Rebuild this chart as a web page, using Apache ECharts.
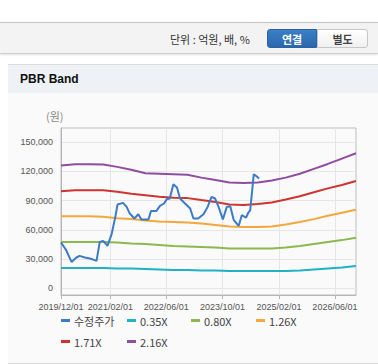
<!DOCTYPE html>
<html>
<head>
<meta charset="utf-8">
<script src="https://cdn.jsdelivr.net/npm/echarts@6/dist/echarts.min.js"></script>
<style>
  html, body { margin: 0; padding: 0; background: #ffffff; width: 378px; height: 364px; overflow: hidden; font-family: "Noto Sans CJK KR", "Liberation Sans", sans-serif; }
  #topbar { position: absolute; left: 0; top: 22px; width: 378px; height: 30px; background: #f3f3f3; border-top: 1px solid #c4c4c4; border-bottom: 1px solid #d0d0d0; box-shadow: 0 1px 2px rgba(0,0,0,0.12); }
  #unit { position: absolute; left: 170px; top: 31px; font-size: 11px; line-height: 16px; color: #333; }
  .btn { position: absolute; top: 29px; height: 19px; width: 50px; font-size: 11px; font-weight: bold; line-height: 19px; text-align: center; box-sizing: border-box; }
  #b1 { left: 267px; background: linear-gradient(#3b7fc7, #2b67ad); color: #fff; border: 1px solid #2a62a5; border-radius: 3px 0 0 3px; }
  #b2 { left: 317px; width: 51px; background: linear-gradient(#ffffff, #f0f0f0); color: #444; border: 1px solid #c6c6c6; border-radius: 0 3px 3px 0; }
  #panel { position: absolute; left: 8px; top: 64px; width: 370px; height: 298px; border-top: 1px solid #dcdcdc; border-bottom: 1px solid #dcdcdc; background: #fafafa; }
  #ptitle { position: absolute; left: 0; top: 0; width: 370px; height: 28px; background: #eef2f7; }
  #ptitle span { position: absolute; left: 12px; top: 7px; font-family: "Liberation Sans", sans-serif; font-weight: bold; font-size: 12px; line-height: 14px; color: #111; }
  #chart { position: absolute; left: 8px; top: 93px; width: 370px; height: 269px; }
</style>
</head>
<body>
<div id="topbar"></div>
<div id="unit">단위 : 억원, 배, %</div>
<div class="btn" id="b1">연결</div>
<div class="btn" id="b2">별도</div>
<div id="panel"><div id="ptitle"><span>PBR Band</span></div></div>
<div id="chart"></div>
<script>
// ---- data ----
const xTickLabels = ['2019/12/01', '2021/02/01', '2022/06/01', '2023/10/01', '2025/02/01', '2026/06/01'];
const yTickValues = [0, 30000, 60000, 90000, 120000, 150000];
const seriesNames = ['수정주가', '0.35X', '0.80X', '1.26X', '1.71X', '2.16X'];

const priceDates = ['2019-12-01','2020-01-15','2020-03-01','2020-04-13','2020-05-10','2020-06-25','2020-08-07','2020-09-19','2020-10-04','2020-11-01','2020-12-01','2021-01-07','2021-02-13','2021-03-16','2021-04-04','2021-05-22','2021-06-22','2021-07-19','2021-08-28','2021-10-01','2021-10-28','2021-12-28','2022-01-19','2022-03-07','2022-04-07','2022-05-13','2022-06-04','2022-07-01','2022-08-01','2022-09-01','2022-09-28','2022-11-10','2022-12-25','2023-01-22','2023-03-04','2023-04-19','2023-05-25','2023-06-28','2023-07-28','2023-08-28','2023-10-04','2023-11-07','2023-12-07','2024-01-07','2024-02-18','2024-03-16','2024-04-22','2024-05-13','2024-05-28','2024-06-28','2024-07-19','2024-08-13'];
const priceValues = [47000,39200,27200,31700,33400,31700,30700,29000,28200,47700,48700,43600,56200,73300,86000,87600,83500,76700,71600,76000,70600,70600,79400,79400,84500,87000,91400,92100,106700,103300,92100,87000,81800,71600,71600,76000,83500,93700,92100,83500,70600,83500,84200,69900,64000,75000,72600,78000,80100,117000,115200,112500];

const bandDates = ['2019-12-01','2020-04-01','2020-08-01','2020-12-01','2021-04-01','2021-08-01','2021-12-01','2022-04-01','2022-08-01','2022-12-01','2023-04-01','2023-08-01','2023-12-01','2024-04-01','2024-08-01','2024-12-01','2025-04-01','2025-08-01','2025-12-01','2026-04-01','2026-08-01','2026-12-01'];
const band035 = [21000,21000,21000,21000,20500,20500,20000,19500,19000,19000,18500,18500,18000,18000,18000,18000,18000,18500,19500,20500,21500,23000];
const band080 = [47500,47500,47500,47500,47000,46000,45500,44500,43500,43000,42500,42000,41000,41000,41000,41000,42000,43500,45500,47500,49500,52000];
const band126 = [74000,74000,74000,73500,72000,71000,69500,68500,68000,67500,66500,65000,63500,63000,63000,63500,65500,68000,71000,74500,77500,80500];
const band171 = [99500,100500,100500,100500,99000,97000,95500,94000,93000,92500,90500,88500,86000,85500,86500,88000,91000,94500,98500,102500,106000,110000];
const band216 = [125800,127300,127300,127000,124500,121500,118000,117500,117000,116500,113500,111000,108500,108000,108500,110500,113500,117500,122500,127500,133000,138500];

const colors = ['#3b7bc8', '#1fb1c4', '#8cb84f', '#f3a73c', '#cf3330', '#904c9f'];

// ---- helpers ----
function parseSlash(s) { const p = s.split('/'); return new Date(+p[0], +p[1] - 1, +p[2]).getTime(); }
function parseDash(s) { const p = s.split('-'); return new Date(+p[0], +p[1] - 1, +p[2]).getTime(); }
function pad(n) { return (n < 10 ? '0' : '') + n; }
function fmtDate(v) { const d = new Date(v); return d.getFullYear() + '/' + pad(d.getMonth() + 1) + '/' + pad(d.getDate()); }
function pairs(dates, vals) { return dates.map((d, i) => [parseDash(d), vals[i]]); }

const xTicks = xTickLabels.map(parseSlash);
const xMin = parseSlash('2019/12/01');
const xMax = parseSlash('2026/12/01');

const bandSets = [band035, band080, band126, band171, band216];
const series = [];
series.push({ name: seriesNames[0], type: 'line', data: pairs(priceDates, priceValues), showSymbol: false, symbol: 'none', lineStyle: { width: 2, color: colors[0] }, itemStyle: { color: colors[0] }, z: 10 });
bandSets.forEach((b, i) => {
  series.push({ name: seriesNames[i + 1], type: 'line', data: pairs(bandDates, b), showSymbol: false, symbol: 'none', lineStyle: { width: 2, color: colors[i + 1] }, itemStyle: { color: colors[i + 1] }, z: 5 - i });
});

const legendPos = [[53, 222], [119, 222], [183, 222], [248, 222], [53, 243], [119, 243]];
const legends = seriesNames.map((n, i) => ({
  data: [{ name: n, icon: 'rect' }],
  left: legendPos[i][0], top: legendPos[i][1], padding: 0,
  itemWidth: 9, itemHeight: 3, itemGap: 0, selectedMode: false,
  textStyle: { fontSize: 11, color: '#444', fontFamily: '"Noto Sans CJK KR", "Liberation Sans", sans-serif', padding: [0, 0, 0, -1] }
}));

const chart = echarts.init(document.getElementById('chart'), null, { renderer: 'svg' });
chart.setOption({
  animation: false,
  backgroundColor: '#fafafa',
  color: colors,
  grid: { left: 53, top: 35, width: 295, height: 167, show: true, borderColor: '#bdbdbd', borderWidth: 1, backgroundColor: 'transparent' },
  legend: legends,
  graphic: [{ type: 'text', left: 38, top: 17, style: { text: '(원)', fontSize: 11, fill: '#888', fontFamily: '"Noto Sans CJK KR", sans-serif' } }],
  xAxis: {
    type: 'value', min: xMin, max: xMax, scale: true,
    axisLine: { show: true, onZero: false, lineStyle: { color: '#b5b5b5' } },
    axisTick: { show: true, length: 4, lineStyle: { color: '#b5b5b5' }, customValues: xTicks },
    axisLabel: { customValues: xTicks, formatter: v => fmtDate(v), fontSize: 9, color: '#555', fontFamily: '"Liberation Sans", sans-serif', margin: 7, hideOverlap: false, showMinLabel: true, showMaxLabel: true },
    splitLine: { show: true, lineStyle: { color: '#e6e6e6' } }
  },
  yAxis: {
    type: 'value', min: -6700, max: 164300,
    axisLine: { show: true, onZero: false, lineStyle: { color: '#b5b5b5' } },
    axisTick: { show: false, customValues: yTickValues },
    axisLabel: { customValues: yTickValues, formatter: v => v.toLocaleString('en-US'), fontSize: 9, color: '#555', fontFamily: '"Liberation Sans", sans-serif', margin: 8 },
    splitLine: { show: true, lineStyle: { color: '#e6e6e6' } }
  },
  series: series
});
</script>
</body>
</html>
